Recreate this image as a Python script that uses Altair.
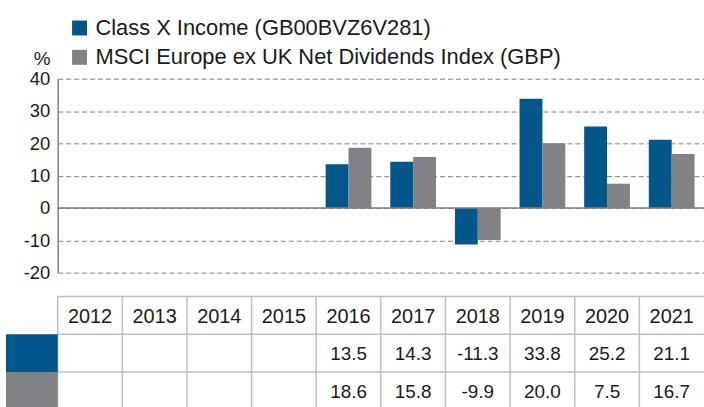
import altair as alt
import pandas as pd

years = ["2012", "2013", "2014", "2015", "2016", "2017", "2018", "2019", "2020", "2021"]
series = ["Class X Income (GB00BVZ6V281)", "MSCI Europe ex UK Net Dividends Index (GBP)"]
fund = [None, None, None, None, 13.5, 14.3, -11.3, 33.8, 25.2, 21.1]
index = [None, None, None, None, 18.6, 15.8, -9.9, 20.0, 7.5, 16.7]
colors = ["#00578A", "#808285"]
row_keys = ["header", "fund", "index"]

FONT = "Liberation Sans"
TXT = "#1a1a1a"
GRID = "#808080"
TABLE_LINE = "#bfbfbf"

# ---- data frames
bar_rows = []
for s, vals in zip(series, [fund, index]):
    for y, v in zip(years, vals):
        if v is not None:
            bar_rows.append({"year": y, "series": s, "value": v})
bars_df = pd.DataFrame(bar_rows)

head_df = pd.DataFrame({"year": years, "row": ["header"] * len(years), "label": years})
val_rows = []
for key, vals in zip(["fund", "index"], [fund, index]):
    for y, v in zip(years, vals):
        val_rows.append({"year": y, "row": key, "label": "" if v is None else f"{v:.1f}"})
vals_df = pd.DataFrame(val_rows)
sw_df = pd.DataFrame({"row": ["fund", "index"], "series": series})
zero_df = pd.DataFrame({"v": [0]})

W = 650
x_scale = alt.Scale(domain=years, paddingInner=0, paddingOuter=0)
y_scale = alt.Scale(domain=[-20, 40], range=[273, 78], nice=False, zero=False)
row_scale = alt.Scale(type="band", domain=row_keys, range=[297, 411], paddingInner=0, paddingOuter=0)
color_scale = alt.Scale(domain=series, range=colors)

bars = alt.Chart(bars_df).mark_bar(size=23).encode(
    x=alt.X("year:N", scale=x_scale, axis=None),
    xOffset=alt.XOffset("series:N", scale=alt.Scale(domain=series, paddingInner=0, paddingOuter=0.413)),
    y=alt.Y("value:Q", scale=y_scale, axis=alt.Axis(
        values=[-20, -10, 0, 10, 20, 30, 40], grid=True, gridDash=[5, 3], gridColor=GRID,
        gridWidth=1, domain=True, domainColor=GRID, domainWidth=1.5, ticks=False,
        labelExpr="'' + datum.value",
        labelPadding=8, labelFontSize=18.5, labelFont=FONT, labelColor=TXT,
        title="%", titleAngle=0, titleX=-16, titleY=64, titleAlign="center",
        titleBaseline="alphabetic", titleFontSize=19, titleFont=FONT,
        titleFontWeight="normal", titleColor=TXT)),
    color=alt.Color("series:N", scale=color_scale, legend=alt.Legend(
        orient="none", legendX=11, legendY=16, title=None, symbolType="square",
        symbolSize=225, symbolStrokeWidth=0, labelFontSize=22, labelFont=FONT,
        labelColor=TXT, rowPadding=7.5, labelOffset=5, labelLimit=0, padding=0)),
)

zero = alt.Chart(zero_df).mark_rule(color=GRID, strokeWidth=1.5).encode(
    y=alt.Y("v:Q", scale=y_scale, axis=None),
    x=alt.value(0), x2=alt.value(W),
)

hlines = alt.Chart(pd.DataFrame({"row": row_keys})).mark_rule(color=TABLE_LINE, strokeWidth=1.5).encode(
    y=alt.Y("row:N", scale=row_scale, axis=None, bandPosition=0),
    x=alt.value(0), x2=alt.value(W),
)

vlines = alt.Chart(pd.DataFrame({"year": years})).mark_rule(color=TABLE_LINE, strokeWidth=1.5).encode(
    x=alt.X("year:N", scale=x_scale, axis=None, bandPosition=0),
    y=alt.value(297), y2=alt.value(411),
)

swatch = alt.Chart(sw_df).mark_rect().encode(
    y=alt.Y("row:N", scale=row_scale, axis=None),
    x=alt.value(-52), x2=alt.value(0),
    color=alt.Color("series:N", scale=color_scale, legend=None),
)

head_text = alt.Chart(head_df).mark_text(fontSize=20, font=FONT, color=TXT, dy=2).encode(
    x=alt.X("year:N", scale=x_scale, axis=None),
    y=alt.Y("row:N", scale=row_scale, axis=None),
    text="label:N",
)

val_text = alt.Chart(vals_df).mark_text(fontSize=19, font=FONT, color=TXT, dy=1).encode(
    x=alt.X("year:N", scale=x_scale, axis=None),
    y=alt.Y("row:N", scale=row_scale, axis=None),
    text="label:N",
)

chart = alt.layer(bars, zero, hlines, vlines, swatch, head_text, val_text).resolve_scale(
    y="independent"
).properties(
    width=W, height=407,
    padding={"left": 58, "top": 0, "right": 0, "bottom": 0},
    autosize=alt.AutoSizeParams(type="none"),
    background="white",
).configure_view(stroke=None)

chart.save("out.html", embed_options={"renderer": "svg", "actions": False})
